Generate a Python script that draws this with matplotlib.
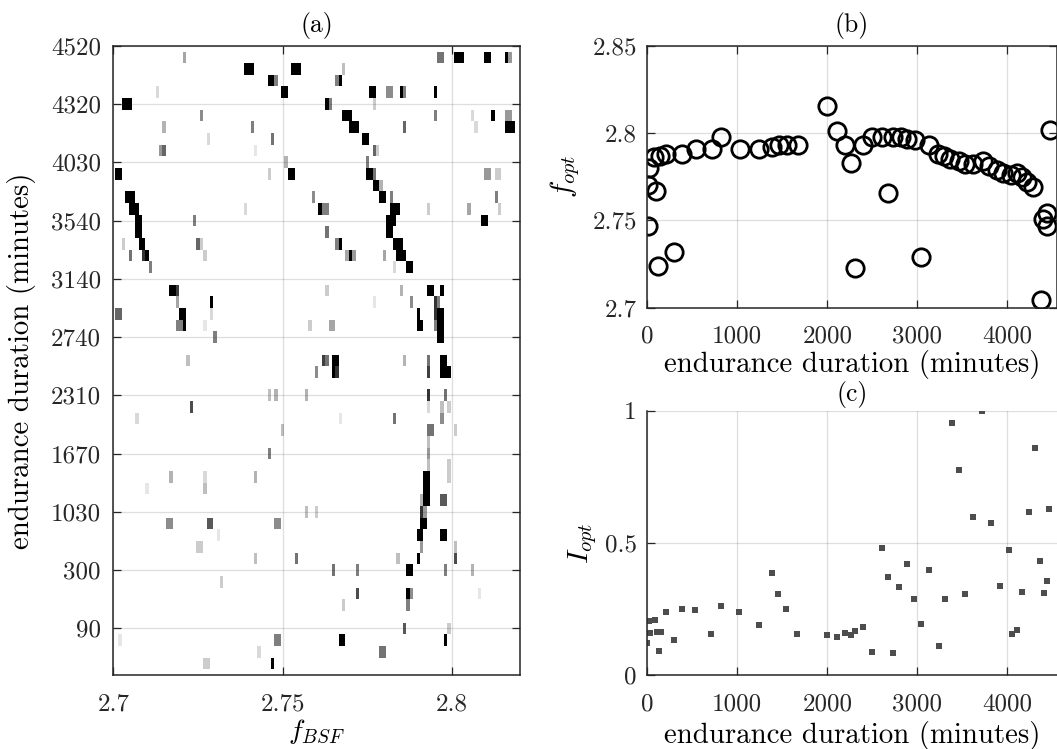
import numpy as np
import matplotlib
matplotlib.use("Agg")
import matplotlib.pyplot as plt

plt.rcParams['font.family'] = ['cmr10', 'DejaVu Serif']
plt.rcParams['mathtext.fontset'] = 'cm'
plt.rcParams['axes.formatter.use_mathtext'] = True

# ---- panel (a): normalised spectrum per measurement (sparse cells) ----
# row = measurement index (1..55), bins = frequency bins of 0.001 from 2.700
row_ticks = [5, 10, 15, 20, 25, 30, 35, 40, 45, 50, 55]
row_labels = ['90', '300', '1030', '1670', '2310', '2740', '3140', '3540', '4030', '4320', '4520']
f0 = 2.700
df = 0.001
n_rows = 55
n_bins = 121

# (row, first bin, last bin, level 0..1)
cells = [
    (54, 21, 21, .35), (54, 96, 97, .55), (54, 101, 103, 1), (54, 110, 111, 1), (54, 116, 116, 1), (54, 117, 117, .4),
    (53, 39, 41, 1), (53, 53, 55, 1), (53, 68, 68, .25),
    (52, 46, 47, 1), (52, 48, 48, .5), (52, 66, 66, .5), (52, 67, 67, 1),
    (51, 13, 13, .15), (51, 50, 51, 1), (51, 76, 77, 1), (51, 81, 82, .45), (51, 85, 85, 1), (51, 86, 86, .5), (51, 95, 95, 1),
    (50, 3, 5, 1), (50, 63, 63, 1), (50, 64, 64, .5), (50, 77, 77, .2),
    (49, 26, 26, .45), (49, 68, 70, 1), (49, 95, 95, .5), (49, 106, 106, .15), (49, 112, 112, 1), (49, 116, 117, .4),
    (48, 15, 15, .3), (48, 41, 41, .5), (48, 70, 72, 1), (48, 86, 86, .6), (48, 107, 107, .15), (48, 116, 118, 1),
    (47, 28, 28, .15), (47, 47, 47, .55), (47, 74, 75, 1),
    (46, 14, 14, .4), (46, 15, 15, .6), (46, 42, 42, .1), (46, 77, 77, .6), (46, 78, 78, .2),
    (45, 51, 51, .3), (45, 75, 75, .5),
    (44, 1, 2, 1), (44, 46, 46, .2), (44, 52, 53, 1), (44, 75, 76, 1), (44, 77, 77, .55), (44, 110, 111, .4), (44, 113, 114, .2),
    (43, 77, 78, 1), (43, 79, 79, .3),
    (42, 4, 6, 1), (42, 59, 59, .45), (42, 79, 80, 1), (42, 82, 82, .5), (42, 113, 113, .5),
    (41, 5, 7, 1), (41, 39, 39, .15), (41, 61, 61, 1), (41, 62, 63, .5), (41, 82, 84, 1), (41, 93, 93, .2), (41, 105, 105, .35), (41, 114, 114, .2),
    (40, 7, 8, 1), (40, 24, 24, .5), (40, 81, 83, 1), (40, 109, 110, 1),
    (39, 7, 8, 1), (39, 63, 63, .55), (39, 81, 82, 1),
    (38, 3, 3, .2), (38, 8, 9, 1), (38, 25, 25, .6), (38, 26, 26, .2), (38, 66, 66, .5), (38, 67, 67, 1), (38, 83, 85, 1),
    (37, 5, 5, .55), (37, 9, 9, .8), (37, 10, 10, 1), (37, 27, 27, .2), (37, 69, 69, .35), (37, 70, 70, 1), (37, 71, 71, .4),
    (37, 80, 80, .35), (37, 84, 86, 1),
    (36, 11, 11, .5), (36, 83, 83, .15), (36, 87, 88, 1),
    (34, 17, 18, 1), (34, 19, 19, .75), (34, 63, 63, .2), (34, 85, 85, .3), (34, 93, 94, 1), (34, 97, 97, 1),
    (33, 19, 19, .35), (33, 29, 29, 1), (33, 77, 77, .1), (33, 88, 88, .45), (33, 95, 95, .8), (33, 96, 96, .5),
    (32, 1, 2, .6), (32, 20, 21, 1), (32, 29, 29, .15), (32, 90, 90, 1), (32, 95, 95, .8), (32, 96, 97, 1),
    (31, 19, 20, .5), (31, 21, 21, 1), (31, 27, 27, .1), (31, 58, 58, .2), (31, 64, 65, .35), (31, 90, 91, 1), (31, 95, 95, .5), (31, 96, 97, 1),
    (30, 30, 30, .5), (30, 96, 97, 1),
    (28, 22, 22, .25), (28, 62, 62, .75), (28, 63, 63, .55), (28, 65, 66, 1), (28, 86, 86, .3), (28, 93, 93, .55), (28, 97, 98, 1),
    (27, 60, 60, .45), (27, 65, 65, 1), (27, 66, 66, .8), (27, 93, 93, .75), (27, 97, 99, 1),
    (25, 46, 46, .25), (25, 48, 48, .3), (25, 57, 57, .3), (25, 93, 93, .8), (25, 98, 98, .55),
    (24, 23, 23, .7), (24, 93, 93, .15), (24, 97, 97, .25), (24, 99, 99, .2),
    (23, 7, 7, .15), (23, 67, 67, .1), (23, 83, 83, .55), (23, 97, 97, .45),
    (22, 50, 50, .25), (22, 93, 94, .55), (22, 101, 101, .2),
    (21, 93, 93, .25),
    (20, 46, 46, .5), (20, 93, 93, .4),
    (19, 93, 93, .25), (19, 99, 99, .2),
    (18, 17, 17, .3), (18, 27, 27, .15), (18, 42, 42, .3), (18, 92, 93, 1), (18, 99, 99, .2),
    (17, 10, 10, .1), (17, 27, 27, .25), (17, 92, 93, 1),
    (16, 91, 91, .3), (16, 92, 93, 1), (16, 97, 98, .65),
    (15, 57, 57, .25), (15, 60, 60, .2), (15, 91, 91, .8), (15, 92, 92, .4),
    (14, 16, 17, .45), (14, 28, 29, .65), (14, 48, 49, .45), (14, 91, 92, 1),
    (13, 31, 31, .1), (13, 90, 91, 1), (13, 97, 98, 1),
    (12, 25, 26, .2), (12, 91, 91, .4), (12, 101, 101, .25),
    (11, 42, 42, .25), (11, 54, 54, .55), (11, 84, 84, .25), (11, 90, 90, 1), (11, 101, 101, .7),
    (10, 65, 65, .55), (10, 72, 72, .5), (10, 87, 88, 1), (10, 98, 98, .5), (10, 106, 106, .3),
    (9, 32, 32, .2),
    (8, 72, 72, .7), (8, 87, 87, 1), (8, 88, 88, .45), (8, 108, 108, .1),
    (7, 68, 68, .2), (7, 87, 87, .5),
    (5, 86, 86, .65), (5, 99, 99, .2),
    (4, 2, 2, .1), (4, 48, 49, .5), (4, 67, 68, 1), (4, 98, 98, 1),
    (3, 43, 43, .15), (3, 79, 80, .55),
    (2, 27, 28, .2), (2, 47, 47, 1),
]

# ---- panel (b): optimal frequency ----
t_b = [4, 7, 22, 78, 93, 122, 137, 207, 293, 381, 537, 715, 819, 1030, 1241, 1382, 1459, 1556, 1674,
       1993, 2104, 2197, 2259, 2308, 2400, 2493, 2604, 2678, 2734, 2815, 2882, 2974, 3041, 3134, 3234,
       3297, 3363, 3467, 3530, 3623, 3726, 3800, 3882, 3956, 4037, 4104, 4160, 4215, 4289, 4371, 4400,
       4437, 4445, 4474]
f_opt = [2.770, 2.747, 2.780, 2.786, 2.767, 2.724, 2.787, 2.788, 2.732, 2.788, 2.791, 2.791, 2.798, 2.791,
         2.791, 2.792, 2.793, 2.793, 2.793, 2.8155, 2.801, 2.793, 2.783, 2.723, 2.793, 2.798, 2.798, 2.7655,
         2.798, 2.7975, 2.7964, 2.796, 2.729, 2.793, 2.788, 2.787, 2.785, 2.784, 2.782, 2.782, 2.784, 2.781,
         2.779, 2.777, 2.776, 2.777, 2.775, 2.772, 2.769, 2.7044, 2.751, 2.747, 2.754, 2.802]

# ---- panel (c): optimal intensity ----
t_c = [0, 22, 30, 89, 104, 126, 156, 207, 296, 385, 533, 707, 815, 1022, 1245, 1385, 1456, 1545, 1663,
       1993, 2104, 2193, 2263, 2304, 2400, 2500, 2604, 2671, 2734, 2800, 2882, 2960, 3041, 3130, 3241,
       3311, 3389, 3467, 3530, 3619, 3719, 3819, 3919, 4019, 4056, 4108, 4167, 4237, 4308, 4367, 4408,
       4445, 4467]
I_opt = [0.120, 0.204, 0.160, 0.208, 0.163, 0.090, 0.163, 0.240, 0.131, 0.250, 0.246, 0.155, 0.260,
         0.238, 0.188, 0.386, 0.308, 0.248, 0.154, 0.151, 0.145, 0.160, 0.151, 0.166, 0.182, 0.088,
         0.482, 0.371, 0.083, 0.332, 0.421, 0.289, 0.194, 0.398, 0.108, 0.288, 0.955, 0.776, 0.306,
         0.598, 1.0, 0.576, 0.335, 0.473, 0.154, 0.171, 0.315, 0.617, 0.858, 0.433, 0.310, 0.354, 0.627]

# build the image
Z = np.zeros((n_rows, n_bins))
for r, b0, b1, lev in cells:
    Z[r - 1, b0:b1 + 1] = lev
x_edges = f0 + (np.arange(n_bins + 1) - 0.5) * df
y_edges = np.arange(n_rows + 1) + 0.5

W, H = 1057, 749
fig = plt.figure(figsize=(W / 100, H / 100), dpi=100)

def box(l, t, r, b):
    return [l / W, 1 - b / H, (r - l) / W, (b - t) / H]

ax_a = fig.add_axes(box(113.3, 45.7, 520, 675))
ax_b = fig.add_axes(box(647.3, 45.7, 1056.8, 307.7))
ax_c = fig.add_axes(box(647.3, 410.7, 1056.8, 675))

grid_kw = dict(color='#262626', alpha=0.15, linewidth=0.9)
spine_c = '#262626'
tick_fs = 18
lab_fs = 20.8
tit_fs = 18.5

for ax in (ax_a, ax_b, ax_c):
    ax.tick_params(direction='in', length=6, width=0.9, labelsize=tick_fs, colors=spine_c, labelcolor='#262626')
    ax.tick_params(axis='x', pad=13)
    ax.tick_params(axis='y', pad=7.5)
    for s in ax.spines.values():
        s.set_color(spine_c)
        s.set_linewidth(1.1)

# (a)
ax_a.pcolormesh(x_edges, y_edges, Z, cmap='gray_r', vmin=0, vmax=1, shading='flat')
ax_a.set_xlim(2.70, 2.82)
ax_a.set_ylim(1, 55)
ax_a.set_xticks([2.70, 2.75, 2.80])
ax_a.set_xticklabels(['2.7', '2.75', '2.8'])
ax_a.set_yticks(row_ticks)
ax_a.set_yticklabels(row_labels)
ax_a.tick_params(top=True, right=True)
ax_a.tick_params(axis='y', pad=9)
ax_a.set_axisbelow(False)
ax_a.grid(True, **grid_kw)
ax_a.set_title('(a)', fontsize=tit_fs, pad=10)
ax_a.set_xlabel('$f_{BSF}$', fontsize=20)
ax_a.set_ylabel('endurance duration (minutes)', fontsize=lab_fs)
ax_a.xaxis.set_label_coords(0.5, -0.068)
ax_a.yaxis.set_label_coords(-0.19, 0.5)

# (b)
ax_b.plot(t_b, f_opt, 'o', mfc='none', mec='black', ms=12.5, mew=2.0)
ax_b.set_xlim(0, 4550)
ax_b.set_ylim(2.70, 2.85)
ax_b.set_xticks([0, 1000, 2000, 3000, 4000])
ax_b.set_xticklabels(['0', '1000', '2000', '3000', '4000'])
ax_b.set_yticks([2.70, 2.75, 2.80, 2.85])
ax_b.set_yticklabels(['2.7', '2.75', '2.8', '2.85'])
ax_b.tick_params(top=True, right=True)
ax_b.grid(True, **grid_kw)
ax_b.set_axisbelow(True)
ax_b.set_title('(b)', fontsize=tit_fs, pad=10)
ax_b.set_xlabel('endurance duration (minutes)', fontsize=lab_fs)
ax_b.set_ylabel('$f_{opt}$', fontsize=21)
ax_b.xaxis.set_label_coords(0.5, -0.16)
ax_b.yaxis.set_label_coords(-0.16, 0.5)

# (c)
ax_c.plot(t_c, I_opt, 's', color='#4d4d4d', ms=4.5, mew=0)
ax_c.set_xlim(0, 4550)
ax_c.set_ylim(0, 1)
ax_c.set_xticks([0, 1000, 2000, 3000, 4000])
ax_c.set_xticklabels(['0', '1000', '2000', '3000', '4000'])
ax_c.set_yticks([0, 0.5, 1])
ax_c.set_yticklabels(['0', '0.5', '1'])
ax_c.spines['top'].set_visible(False)
ax_c.spines['right'].set_visible(False)
ax_c.grid(True, **grid_kw)
ax_c.set_axisbelow(True)
ax_c.set_title('(c)', fontsize=tit_fs, pad=7)
ax_c.set_xlabel('endurance duration (minutes)', fontsize=lab_fs)
ax_c.set_ylabel('$I_{opt}$', fontsize=21)
ax_c.xaxis.set_label_coords(0.5, -0.175)
ax_c.yaxis.set_label_coords(-0.118, 0.5)

fig.savefig('out.png', dpi=100)
